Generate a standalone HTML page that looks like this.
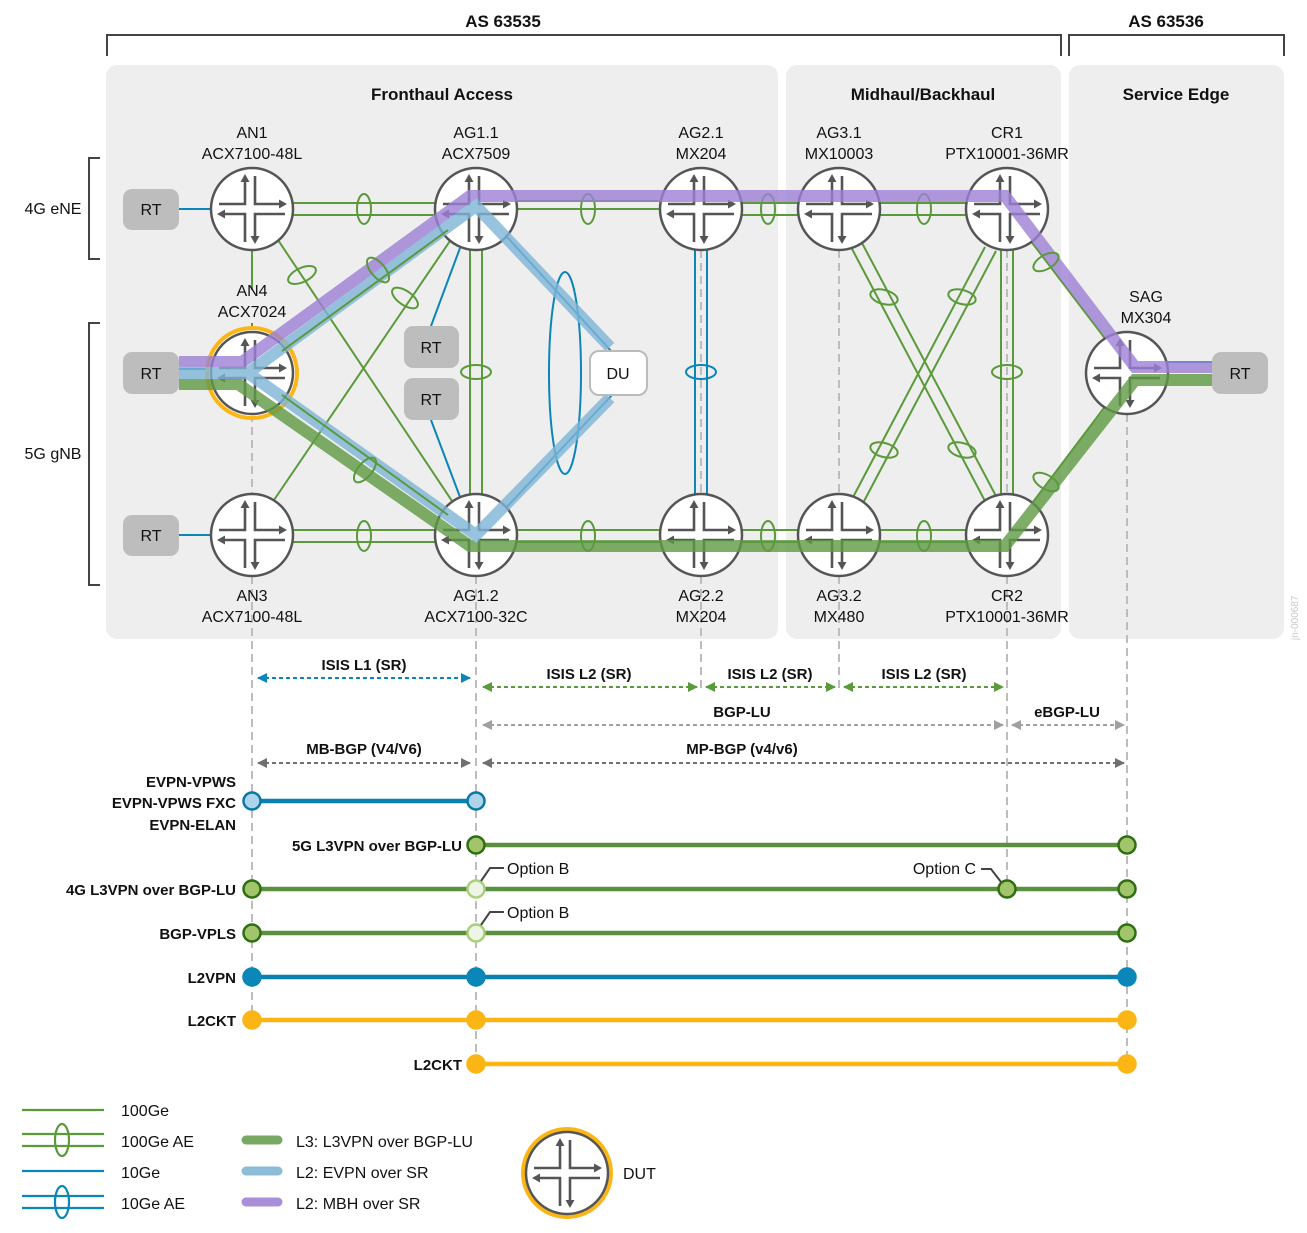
<!DOCTYPE html>
<html><head><meta charset="utf-8"><style>
html,body{margin:0;padding:0;background:#fff}
svg{display:block}
text{font-family:"Liberation Sans",sans-serif;fill:#111}
.t{font-size:16px}
.b{font-size:17px;font-weight:bold}
.s{font-size:15px;font-weight:bold}
</style></head><body>
<svg width="1307" height="1233" viewBox="0 0 1307 1233" xmlns="http://www.w3.org/2000/svg">
<defs>
<g id="rt">
<circle r="41" fill="#fff" stroke="#555" stroke-width="2.5"/>
<g stroke="#555" stroke-width="2.6" fill="none">
<path d="M-7,-28 V-5 H-33"/>
<path d="M3,-33 V-5 H28"/>
<path d="M-28,5 H-7 V33"/>
<path d="M33,5 H3 V28"/>
</g>
<g fill="#555">
<path d="M-7,-35 L-11.5,-27 L-2.5,-27Z"/>
<path d="M35,-5 L27,-9.5 L27,-0.5Z"/>
<path d="M-35,5 L-27,0.5 L-27,9.5Z"/>
<path d="M3,35 L-1.5,27 L7.5,27Z"/>
</g>
</g>
<marker id="ag" viewBox="0 0 10 10" refX="9" refY="5" markerWidth="5" markerHeight="5" orient="auto-start-reverse"><path d="M0,0 L10,5 L0,10Z" fill="#5a9a3a"/></marker>
<marker id="ab" viewBox="0 0 10 10" refX="9" refY="5" markerWidth="5" markerHeight="5" orient="auto-start-reverse"><path d="M0,0 L10,5 L0,10Z" fill="#0a86b8"/></marker>
<marker id="agr" viewBox="0 0 10 10" refX="9" refY="5" markerWidth="5" markerHeight="5" orient="auto-start-reverse"><path d="M0,0 L10,5 L0,10Z" fill="#a0a0a0"/></marker>
<marker id="adk" viewBox="0 0 10 10" refX="9" refY="5" markerWidth="5" markerHeight="5" orient="auto-start-reverse"><path d="M0,0 L10,5 L0,10Z" fill="#707070"/></marker>
</defs>

<text x="503" y="27" class="b" text-anchor="middle">AS 63535</text>
<text x="1166" y="27" class="b" text-anchor="middle">AS 63536</text>
<path d="M107,56 V35 H1061 V56" fill="none" stroke="#444" stroke-width="2"/>
<path d="M1069,56 V35 H1284 V56" fill="none" stroke="#444" stroke-width="2"/>
<path d="M100,158 H89 V259 H100" fill="none" stroke="#444" stroke-width="2"/>
<path d="M100,323 H89 V585 H100" fill="none" stroke="#444" stroke-width="2"/>
<text x="53" y="214" class="t" text-anchor="middle">4G eNE</text>
<text x="53" y="459" class="t" text-anchor="middle">5G gNB</text>

<rect x="106" y="65" width="672" height="574" rx="11" fill="#eeeeee"/>
<rect x="786" y="65" width="275" height="574" rx="11" fill="#eeeeee"/>
<rect x="1069" y="65" width="215" height="574" rx="11" fill="#eeeeee"/>
<text x="442" y="100" class="b" text-anchor="middle">Fronthaul Access</text>
<text x="923" y="100" class="b" text-anchor="middle">Midhaul/Backhaul</text>
<text x="1176" y="100" class="b" text-anchor="middle">Service Edge</text>
<text x="1298" y="640" font-size="10" style="fill:#c8c8c8" transform="rotate(-90 1298 640)">jn-000687</text>

<g stroke="#bdbdbd" stroke-width="2" stroke-dasharray="8,5" fill="none">
<path d="M252,414 V494"/>
<path d="M252,576 V1020"/>
<path d="M476,576 V1064"/>
<path d="M701,250 V494"/>
<path d="M701,576 V690"/>
<path d="M839,250 V494"/>
<path d="M839,576 V690"/>
<path d="M1007,250 V494"/>
<path d="M1007,576 V888"/>
<path d="M1127,414 V1064"/>
</g>

<g stroke="#5a9a3a" stroke-width="2" fill="none">
<path d="M252,203 H476 M252,215 H476"/>
<path d="M252,530 H476 M252,542 H476"/>
<path d="M476,201 H701 M476,209 H701"/>
<path d="M476,530 H701 M476,542 H701"/>
<path d="M701,203 H839 M701,215 H839"/>
<path d="M701,530 H839 M701,542 H839"/>
<path d="M839,203 H1007 M839,215 H1007"/>
<path d="M839,530 H1007 M839,542 H1007"/>
<path d="M252,250 V290 M252,323 V333"/>
<path d="M278,240 L458,510"/>
<path d="M274,500 L452,238"/>
<path d="M470,250 V494 M482,250 V494"/>
<path d="M851,247 L985,501 M862,243 L996,496"/>
<path d="M985,247 L851,501 M996,251 L862,505"/>
<path d="M1001,250 V494 M1013,250 V494"/>
<path d="M1030,240 L1110,345"/>
<path d="M1030,506 L1110,400"/>
<ellipse cx="364" cy="209" rx="7" ry="15"/>
<ellipse cx="364" cy="536" rx="7" ry="15"/>
<ellipse cx="588" cy="209" rx="7" ry="15"/>
<ellipse cx="588" cy="536" rx="7" ry="15"/>
<ellipse cx="768" cy="209" rx="7" ry="15"/>
<ellipse cx="768" cy="536" rx="7" ry="15"/>
<ellipse cx="924" cy="209" rx="7" ry="15"/>
<ellipse cx="924" cy="536" rx="7" ry="15"/>
<ellipse cx="476" cy="372" rx="15" ry="7"/>
<ellipse cx="1007" cy="372" rx="15" ry="7"/>
<ellipse cx="302" cy="275" rx="15" ry="7" transform="rotate(-25 302 275)"/>
<ellipse cx="405" cy="298" rx="15" ry="7" transform="rotate(35 405 298)"/>
<ellipse cx="884" cy="297" rx="14" ry="7" transform="rotate(15 884 297)"/>
<ellipse cx="962" cy="297" rx="14" ry="7" transform="rotate(15 962 297)"/>
<ellipse cx="884" cy="450" rx="14" ry="7" transform="rotate(15 884 450)"/>
<ellipse cx="962" cy="450" rx="14" ry="7" transform="rotate(15 962 450)"/>
</g>
<g stroke="#0a86b8" stroke-width="2" fill="none">
<path d="M179,209 H212 M179,535 H212 M179,369 H220"/>
<path d="M460,248 L431,326 M431,420 L460,497"/>
<path d="M487,215 L612,352 M487,528 L612,395"/>
<ellipse cx="565" cy="373" rx="16" ry="101"/>
<path d="M695,250 V494 M707,250 V494"/>
<ellipse cx="701" cy="372" rx="15" ry="7"/>
<path d="M1160,362 H1212"/>
</g>

<circle cx="252" cy="373" r="45" fill="#fff" stroke="#fbb615" stroke-width="4"/>
<use href="#rt" x="252" y="209"/><use href="#rt" x="476" y="209"/><use href="#rt" x="701" y="209"/>
<use href="#rt" x="839" y="209"/><use href="#rt" x="1007" y="209"/>
<use href="#rt" x="252" y="535"/><use href="#rt" x="476" y="535"/><use href="#rt" x="701" y="535"/>
<use href="#rt" x="839" y="535"/><use href="#rt" x="1007" y="535"/>
<use href="#rt" x="252" y="373"/>
<use href="#rt" x="1127" y="373"/>

<g fill="none" stroke-width="12" stroke-linejoin="miter" opacity="0.8">
<path d="M179,384 H238 L470,546 H1005 L1135,380 H1212" stroke="#5f9a44"/>
<path d="M179,362 H242 L470,196 H1005 L1135,367 H1212" stroke="#9d80d6"/>
<path d="M179,373 H248 L476,206 L610,347 M610,398 L476,535 L248,373" stroke="#7fb5d8"/>
</g>

<g stroke="#5a9a3a" stroke-width="2" fill="none">
<path d="M282,351 L448,230"/>
<path d="M282,395 L448,515"/>
<ellipse cx="378" cy="270" rx="15" ry="7" transform="rotate(50 378 270)"/>
<ellipse cx="365" cy="470" rx="15" ry="7" transform="rotate(-50 365 470)"/>
<ellipse cx="1046" cy="262" rx="14" ry="7" transform="rotate(-30 1046 262)"/>
<ellipse cx="1046" cy="482" rx="14" ry="7" transform="rotate(30 1046 482)"/>
</g>

<g fill="#bdbdbd">
<rect x="123" y="189" width="56" height="41" rx="9"/>
<rect x="123" y="352" width="56" height="42" rx="9"/>
<rect x="123" y="515" width="56" height="41" rx="9"/>
<rect x="404" y="326" width="55" height="42" rx="9"/>
<rect x="404" y="378" width="55" height="42" rx="9"/>
<rect x="1212" y="352" width="56" height="42" rx="9"/>
</g>
<rect x="590" y="351" width="57" height="44" rx="9" fill="#fff" stroke="#bbb" stroke-width="2"/>
<g class="t" text-anchor="middle">
<text x="151" y="215">RT</text><text x="151" y="379">RT</text><text x="151" y="541">RT</text>
<text x="431" y="353">RT</text><text x="431" y="405">RT</text><text x="1240" y="379">RT</text>
<text x="618" y="379">DU</text>
<text x="252" y="138">AN1</text><text x="252" y="159">ACX7100-48L</text>
<text x="476" y="138">AG1.1</text><text x="476" y="159">ACX7509</text>
<text x="701" y="138">AG2.1</text><text x="701" y="159">MX204</text>
<text x="839" y="138">AG3.1</text><text x="839" y="159">MX10003</text>
<text x="1007" y="138">CR1</text><text x="1007" y="159">PTX10001-36MR</text>
<text x="252" y="296">AN4</text><text x="252" y="317">ACX7024</text>
<text x="1146" y="302">SAG</text><text x="1146" y="323">MX304</text>
<text x="252" y="601">AN3</text><text x="252" y="622">ACX7100-48L</text>
<text x="476" y="601">AG1.2</text><text x="476" y="622">ACX7100-32C</text>
<text x="701" y="601">AG2.2</text><text x="701" y="622">MX204</text>
<text x="839" y="601">AG3.2</text><text x="839" y="622">MX480</text>
<text x="1007" y="601">CR2</text><text x="1007" y="622">PTX10001-36MR</text>
</g>

<g fill="none" stroke-width="2" stroke-dasharray="4,3">
<path d="M258,678 H470" stroke="#0a86b8" marker-start="url(#ab)" marker-end="url(#ab)"/>
<path d="M483,687 H697" stroke="#5a9a3a" marker-start="url(#ag)" marker-end="url(#ag)"/>
<path d="M706,687 H835" stroke="#5a9a3a" marker-start="url(#ag)" marker-end="url(#ag)"/>
<path d="M844,687 H1003" stroke="#5a9a3a" marker-start="url(#ag)" marker-end="url(#ag)"/>
<path d="M483,725 H1003" stroke="#a0a0a0" marker-start="url(#agr)" marker-end="url(#agr)"/>
<path d="M1012,725 H1124" stroke="#a0a0a0" marker-start="url(#agr)" marker-end="url(#agr)"/>
<path d="M258,763 H470" stroke="#707070" marker-start="url(#adk)" marker-end="url(#adk)"/>
<path d="M483,763 H1124" stroke="#707070" marker-start="url(#adk)" marker-end="url(#adk)"/>
</g>
<g class="s" text-anchor="middle">
<text x="364" y="670">ISIS L1 (SR)</text>
<text x="589" y="679">ISIS L2 (SR)</text>
<text x="770" y="679">ISIS L2 (SR)</text>
<text x="924" y="679">ISIS L2 (SR)</text>
<text x="742" y="717">BGP-LU</text>
<text x="1067" y="717">eBGP-LU</text>
<text x="364" y="754">MB-BGP (V4/V6)</text>
<text x="742" y="754">MP-BGP (v4/v6)</text>
</g>

<g fill="none" stroke-width="4.5">
<path d="M252,801 H476" stroke="#0a80ae"/>
<path d="M476,845 H1127" stroke="#5a8f3e"/>
<path d="M252,889 H1127" stroke="#5a8f3e"/>
<path d="M252,933 H1127" stroke="#5a8f3e"/>
<path d="M252,977 H1127" stroke="#0a80ae"/>
<path d="M252,1020 H1127" stroke="#fbb615"/>
<path d="M476,1064 H1127" stroke="#fbb615"/>
</g>
<g stroke-width="2.5">
<circle cx="252" cy="801" r="8.5" fill="#aed4ea" stroke="#0a77a8"/>
<circle cx="476" cy="801" r="8.5" fill="#aed4ea" stroke="#0a77a8"/>
<g fill="#a2c46a" stroke="#2f6e14">
<circle cx="476" cy="845" r="8.5"/><circle cx="1127" cy="845" r="8.5"/>
<circle cx="252" cy="889" r="8.5"/><circle cx="1007" cy="889" r="8.5"/><circle cx="1127" cy="889" r="8.5"/>
<circle cx="252" cy="933" r="8.5"/><circle cx="1127" cy="933" r="8.5"/>
</g>
<g fill="#eef4e6" stroke="#a8cf7a">
<circle cx="476" cy="889" r="8.5"/><circle cx="476" cy="933" r="8.5"/>
</g>
<g fill="#0a86b8" stroke="#0a86b8">
<circle cx="252" cy="977" r="8.5"/><circle cx="476" cy="977" r="8.5"/><circle cx="1127" cy="977" r="8.5"/>
</g>
<g fill="#fbb615" stroke="#fbb615">
<circle cx="252" cy="1020" r="8.5"/><circle cx="476" cy="1020" r="8.5"/><circle cx="1127" cy="1020" r="8.5"/>
<circle cx="476" cy="1064" r="8.5"/><circle cx="1127" cy="1064" r="8.5"/>
</g>
</g>
<g fill="none" stroke="#444" stroke-width="2">
<path d="M481,881 L490,868 H504"/>
<path d="M481,925 L490,912 H504"/>
<path d="M981,869 H991 L1001,882"/>
</g>
<g class="t">
<text x="507" y="874">Option B</text>
<text x="507" y="918">Option B</text>
<text x="976" y="874" text-anchor="end">Option C</text>
</g>
<g class="s" text-anchor="end">
<text x="236" y="787">EVPN-VPWS</text>
<text x="236" y="808">EVPN-VPWS FXC</text>
<text x="236" y="830">EVPN-ELAN</text>
<text x="462" y="851">5G L3VPN over BGP-LU</text>
<text x="236" y="895">4G L3VPN over BGP-LU</text>
<text x="236" y="939">BGP-VPLS</text>
<text x="236" y="983">L2VPN</text>
<text x="236" y="1026">L2CKT</text>
<text x="462" y="1070">L2CKT</text>
</g>

<g fill="none" stroke-width="2.2">
<path d="M22,1110 H104" stroke="#5a9a3a"/>
<path d="M22,1134 H104 M22,1146 H104" stroke="#5a9a3a"/>
<ellipse cx="62" cy="1140" rx="7" ry="16" stroke="#5a9a3a"/>
<path d="M22,1171 H104" stroke="#0a86b8"/>
<path d="M22,1196 H104 M22,1208 H104" stroke="#0a86b8"/>
<ellipse cx="62" cy="1202" rx="7" ry="16" stroke="#0a86b8"/>
</g>
<g stroke-width="9" stroke-linecap="round">
<path d="M246,1140 H278" stroke="#78a862"/>
<path d="M246,1171 H278" stroke="#8dbcd9"/>
<path d="M246,1202 H278" stroke="#a98fda"/>
</g>
<g class="t">
<text x="121" y="1116">100Ge</text>
<text x="121" y="1147">100Ge AE</text>
<text x="121" y="1178">10Ge</text>
<text x="121" y="1209">10Ge AE</text>
<text x="296" y="1147">L3: L3VPN over BGP-LU</text>
<text x="296" y="1178">L2: EVPN over SR</text>
<text x="296" y="1209">L2: MBH over SR</text>
<text x="623" y="1179">DUT</text>
</g>
<circle cx="567" cy="1173" r="44" fill="none" stroke="#fbb615" stroke-width="4"/>
<use href="#rt" x="567" y="1173"/>
</svg>
</body></html>
